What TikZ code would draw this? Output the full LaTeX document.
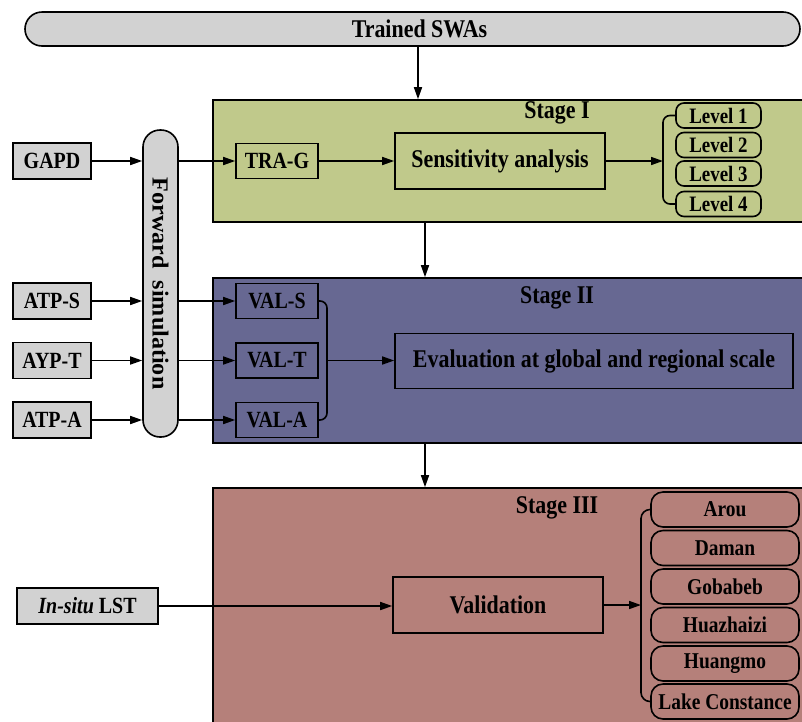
\documentclass[tikz,border=0pt]{standalone}
\usepackage{fontspec}
\setmainfont{Liberation Serif}[FakeStretch=0.86]
\newfontfamily\fsfont{Liberation Serif}[FakeStretch=1.05]
\usetikzlibrary{arrows.meta,calc}
\definecolor{stgA}{HTML}{C0C98B}
\definecolor{stgB}{HTML}{676892}
\definecolor{stgC}{HTML}{B5807A}
\definecolor{boxgray}{HTML}{D2D2D2}
\begin{document}
\begin{tikzpicture}[x=1pt,y=-1pt,line width=1.6pt,
  arr/.style={-{Triangle[length=12pt,width=8pt]},line width=1.6pt},
  fnt/.style={font=\fontsize{23.2}{25}\selectfont\bfseries},
  inbox/.style={draw,fill=boxgray,minimum width=78pt,minimum height=36pt,inner sep=0pt,fnt},
  stagebox/.style={draw,minimum width=590pt,inner sep=0pt},
  stagetitle/.style={font=\fontsize{25.5}{27}\selectfont\bfseries,inner sep=0pt},
  valbox/.style={draw,minimum width=82pt,minimum height=35pt,inner sep=0pt,fnt},
  bigbox/.style={draw,minimum width=210pt,minimum height=56pt,inner sep=0pt,font=\fontsize{25.5}{27}\selectfont\bfseries},
  levelbox/.style={draw,rounded corners=8pt,minimum width=85pt,minimum height=25pt,inner sep=0pt,font=\fontsize{22}{24}\selectfont\bfseries},
  sitebox/.style={draw,rounded corners=12pt,minimum width=148pt,minimum height=35pt,inner sep=0pt,font=\fontsize{22.6}{24}\selectfont\bfseries},
  capsule/.style={draw,fill=boxgray,rounded corners=17pt,inner sep=0pt}
]
\useasboundingbox (0,0) rectangle (802,721);

% top capsule
\node[capsule,minimum width=775pt,minimum height=34pt,font=\fontsize{25.5}{27}\selectfont\bfseries] (swa) at (412.5,29) {\hspace*{14pt}Trained SWAs};

% stages
\node[stagebox,fill=stgA,minimum height=122pt] (s1) at (508,161) {};
\node[stagebox,fill=stgB,minimum height=165pt] (s2) at (508,360.5) {};
\node[stagebox,fill=stgC,minimum height=235pt] (s3) at (508,605.5) {};
\node[stagetitle] (t1) at (557,113) {Stage I};
\node[stagetitle] (t2) at (557,298) {Stage II};
\node[stagetitle] (t3) at (557,508) {Stage III};

\coordinate (ax1) at (418,0);
\coordinate (ax2) at (425,0);
\draw[arr] (swa.south -| ax1) -- (s1.north -| ax1);
\draw[arr] (s1.south -| ax2) -- (s2.north -| ax2);
\draw[arr] (s2.south -| ax2) -- (s3.north -| ax2);

% inputs
\node[inbox] (gapd) at (52,161) {GAPD};
\node[inbox] (atps) at (52,301) {ATP-S};
\node[inbox] (aypt) at (52,360.5) {AYP-T};
\node[inbox] (atpa) at (52,420) {ATP-A};

% forward simulation
\node[capsule,minimum width=35pt,minimum height=307pt] (fs) at (160.5,283.5) {};
\node[rotate=-90,font=\fsfont\fontsize{23}{25}\selectfont\bfseries] (fst) at (fs.center) {Forward\ \ simulation};

% stage I content
\node[valbox] (trag) at (277,161) {TRA-G};
\node[bigbox] (sens) at (500,161) {Sensitivity analysis};
\node[levelbox] (l1) at (718.5,115.5) {Level 1};
\node[levelbox] (l2) at (718.5,145) {Level 2};
\node[levelbox] (l3) at (718.5,173.5) {Level 3};
\node[levelbox] (l4) at (718.5,204) {Level 4};

% stage II content
\node[valbox] (vals) at (277,301) {VAL-S};
\node[valbox] (valt) at (277,360.5) {VAL-T};
\node[valbox] (vala) at (277,420) {VAL-A};
\node[bigbox,minimum width=398pt,minimum height=55pt] (eval) at (594,361) {Evaluation at global and regional scale};

% stage III content
\node[inbox,minimum width=141pt] (insitu) at (87.5,606) {\textit{In-situ} LST};
\node[bigbox] (valid) at (498,605) {Validation};
\node[sitebox] (arou) at (725,509.5) {Arou};
\node[sitebox] (daman) at (725,548) {Daman};
\node[sitebox] (goba) at (725,586.5) {Gobabeb};
\node[sitebox] (huaz) at (725,625) {Huazhaizi};
\node[sitebox] (huan) at (725,663.5) {Huangmo};
\node[sitebox] (lake) at (725,701.5) {Lake Constance};

% arrows inputs -> fs -> stages
\foreach \a/\b in {gapd/trag,atps/vals,aypt/valt,atpa/vala}{
  \draw[arr] (\a.east) -- (\a.east -| fs.west);
  \draw[arr] (fs.east |- \b.west) -- (\b.west);
}

% stage I arrows and brace
\coordinate (bx1) at (663,0);
\draw[arr] (trag.east) -- (sens.west);
\draw[arr] (sens.east) -- (sens.east -| bx1);
\draw[rounded corners=7pt] (l1.west) -- (l1.west -| bx1) -- (l4.west -| bx1) -- (l4.west);

% stage II bracket
\coordinate (bx2) at (327,0);
\draw[rounded corners=7pt] (vals.east) -- (vals.east -| bx2) -- (vala.east -| bx2) -- (vala.east);
\draw[arr] (valt.east -| bx2) -- (eval.west |- valt.east);

% stage III arrows and brace
\coordinate (bx3) at (641,0);
\draw[arr] (insitu.east) -- (valid.west |- insitu.east);
\draw[arr] (valid.east) -- (valid.east -| bx3);
\draw[rounded corners=9pt] (arou.west) -- (arou.west -| bx3) -- (lake.west -| bx3) -- (lake.west);
\end{tikzpicture}
\end{document}
